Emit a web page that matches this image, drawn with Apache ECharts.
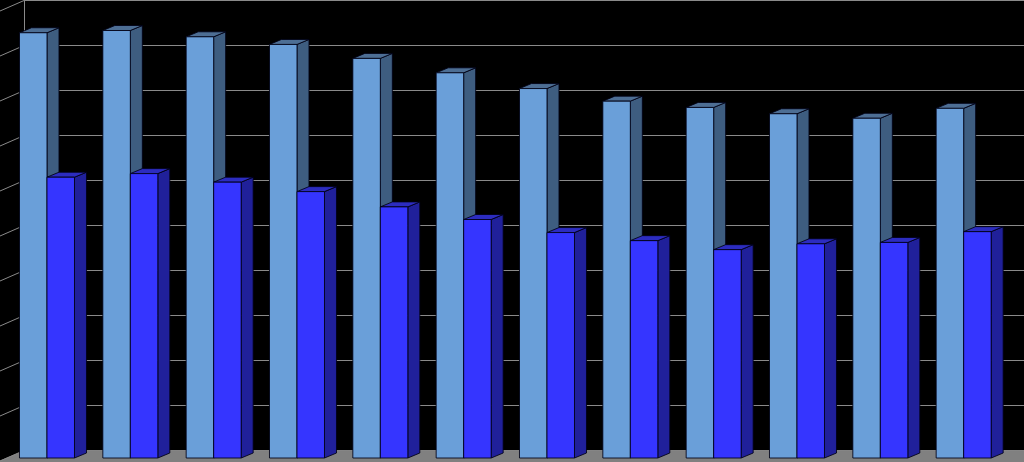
<!DOCTYPE html>
<html>
<head>
<meta charset="utf-8">
<script src="https://cdn.jsdelivr.net/npm/echarts@6/dist/echarts.min.js"></script>
<style>
html,body{margin:0;padding:0;background:#000;}
#chart{width:1024px;height:462px;}
</style>
</head>
<body>
<div id="chart"></div>
<script>
const categories = ['1','2','3','4','5','6','7','8','9','10','11','12'];
const seriesA = [94.5, 95.0, 93.6, 91.9, 88.8, 85.6, 82.1, 79.3, 77.9, 76.5, 75.5, 77.7];
const seriesB = [62.4, 63.2, 61.3, 59.2, 55.8, 53.0, 50.1, 48.3, 46.3, 47.6, 47.9, 50.3];
const tickValues = [0, 10, 20, 30, 40, 50, 60, 70, 80, 90, 100];

const DX = 12, DY = 5;         // bar depth offsets
const WALL_DX = 24, WALL_DY = 10.5; // side wall depth
const GRID_COLOR = '#8a8a8a';

function barRenderer(side, colors) {
  return function (params, api) {
    const idx = api.value(0), val = api.value(1);
    const base = api.coord([idx, 0]);
    const top = api.coord([idx, val]);
    const band = api.size([1, 0])[0];
    const bw = band * 0.33;
    const x0 = side === 0 ? base[0] - bw : base[0];
    const x1 = x0 + bw;
    const yt = top[1], yb = base[1];
    const stroke = 'rgba(0,0,20,0.85)';
    return {
      type: 'group',
      children: [
        { type: 'polygon', shape: { points: [[x1, yt], [x1 + DX, yt - DY], [x1 + DX, yb - DY], [x1, yb]] },
          style: { fill: colors.side, stroke: stroke, lineWidth: 1 } },
        { type: 'polygon', shape: { points: [[x0, yt], [x0 + DX, yt - DY], [x1 + DX, yt - DY], [x1, yt]] },
          style: { fill: colors.top, stroke: stroke, lineWidth: 1 } },
        { type: 'rect', shape: { x: x0, y: yt, width: bw, height: yb - yt },
          style: { fill: colors.front, stroke: stroke, lineWidth: 1 } }
      ]
    };
  };
}

const chart = echarts.init(document.getElementById('chart'), null, { renderer: 'canvas' });
chart.setOption({
  backgroundColor: '#000',
  animation: false,
  grid: [
    { left: 24, right: 0, top: 0, bottom: 12 },
    { left: 5.33, width: 1000, top: 8, bottom: 4 }
  ],
  xAxis: [
    { type: 'category', data: categories, gridIndex: 0, show: false },
    { type: 'category', data: categories, gridIndex: 1, show: false }
  ],
  yAxis: [
    { type: 'value', gridIndex: 0, min: 0, max: 100, interval: 10,
      axisLine: { show: false }, axisTick: { show: false }, axisLabel: { show: false },
      splitLine: { show: true, lineStyle: { color: GRID_COLOR, width: 1 } } },
    { type: 'value', gridIndex: 1, min: 0, max: 100, interval: 10, show: false,
      splitLine: { show: false } }
  ],
  series: [
    { // floor
      type: 'custom', xAxisIndex: 0, yAxisIndex: 0, clip: false, silent: true, z: 1,
      data: [[0, 0]],
      renderItem: function (params, api) {
        const cs = params.coordSys;
        const y0 = api.coord([0, 0])[1];
        return { type: 'polygon', shape: { points: [
          [cs.x, y0 + 0.5], [cs.x + cs.width, y0 + 0.5], [cs.x + cs.width, 462], [cs.x - WALL_DX, 462], [cs.x - WALL_DX, y0 + WALL_DY]
        ] }, style: { fill: '#808080' } };
      }
    },
    { // side wall lines and edge
      type: 'custom', xAxisIndex: 0, yAxisIndex: 0, clip: false, silent: true, z: 2,
      data: tickValues.map(v => [0, v]),
      renderItem: function (params, api) {
        const cs = params.coordSys;
        const y = Math.round(api.coord([0, api.value(1)])[1]) + 0.5;
        const children = [
          { type: 'line', shape: { x1: cs.x, y1: y, x2: cs.x - WALL_DX, y2: y + WALL_DY },
            style: { stroke: GRID_COLOR, lineWidth: 1 } }
        ];
        if (params.dataIndex === 0) {
          children.push({ type: 'line', shape: { x1: cs.x + 0.5, y1: cs.y, x2: cs.x + 0.5, y2: cs.y + cs.height },
            style: { stroke: GRID_COLOR, lineWidth: 1 } });
        }
        return { type: 'group', children: children };
      }
    },
    {
      name: 'A', type: 'custom', xAxisIndex: 1, yAxisIndex: 1, clip: false, z: 3,
      data: seriesA.map((v, i) => [i, v]),
      renderItem: barRenderer(0, { front: '#6a9fd9', side: '#3e5d80', top: '#4d6e94' })
    },
    {
      name: 'B', type: 'custom', xAxisIndex: 1, yAxisIndex: 1, clip: false, z: 4,
      data: seriesB.map((v, i) => [i, v]),
      renderItem: barRenderer(1, { front: '#3535ff', side: '#20209a', top: '#2c2cc0' })
    }
  ]
});
</script>
</body>
</html>
